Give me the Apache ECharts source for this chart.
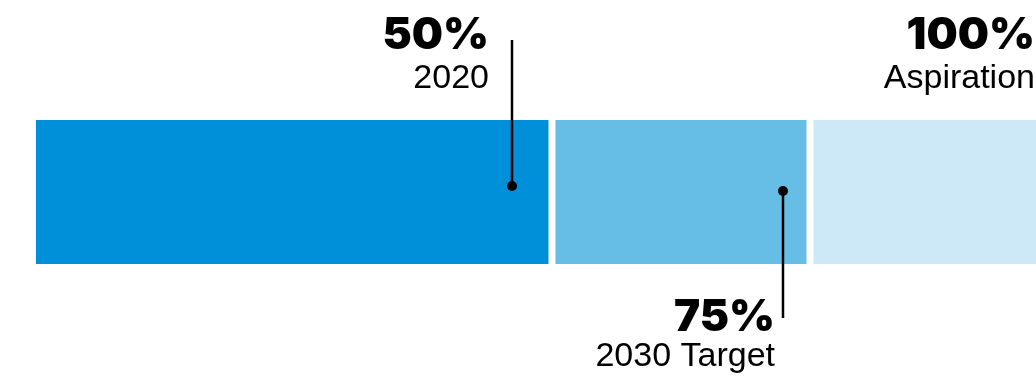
<!DOCTYPE html>
<html><head><meta charset="utf-8">
<script src="https://cdn.jsdelivr.net/npm/echarts@6/dist/echarts.min.js"></script>
<style>html,body{margin:0;padding:0;background:#fff}#c{width:1036px;height:378px}</style>
</head><body><div id="c"></div>
<script>
// ---- data ----
const categories = ['2020', '2030 Target', 'Aspiration'];
const values = [50, 75, 100];
const valueLabels = ['50%', '75%', '100%'];

// ---- style ----
const colors = ['#0090da', '#66bde6', '#cde8f6'];
const gap = 7;
const axisMax = 96.9; // visible extent: the last segment runs off the right edge
const heavyFont = {fontFamily: 'Inter', fontWeight: 900, fontSize: 44};
const regFont = {fontFamily: 'Liberation Sans', fontWeight: 'normal', fontSize: 34};
const markerStyle = [
  {side: 'top', dx: -40, dotDy: -6, lineLen: 80, labelGap: 23, valueDy: -84, catDy: -41, line: true},
  {side: 'bottom', dx: -27, dotDy: -1, lineLen: 54, labelGap: 8, valueDy: 54, catDy: 93, line: true},
  {side: 'top', dx: -33, dotDy: 0, lineLen: 0, labelGap: 0, valueDy: -84, catDy: -41, line: false}
];

const segData = values.map((v, i) => [i ? values[i - 1] : 0, v, i]);
const markData = values.map((v, i) => [v, i]);

const chart = echarts.init(document.getElementById('c'), null, {renderer: 'canvas'});
chart.setOption({
  animation: false,
  grid: {left: 36, right: 0, top: 120, bottom: 114},
  xAxis: {type: 'value', min: 0, max: axisMax, show: false},
  yAxis: {type: 'category', data: ['bar'], show: false},
  series: [
    {
      type: 'custom',
      clip: false,
      data: segData,
      renderItem: function (params, api) {
        const s = api.value(0), e = api.value(1), i = api.value(2);
        const p0 = api.coord([s, 0]);
        const p1 = api.coord([e, 0]);
        const h = api.size([0, 1])[1];
        const x0 = p0[0] + (i > 0 ? gap / 2 : 0);
        const x1 = p1[0] - (i < values.length - 1 ? gap / 2 : 0);
        return {type: 'rect', shape: {x: x0, y: p0[1] - h / 2, width: x1 - x0, height: h}, style: {fill: colors[i]}};
      }
    },
    {
      type: 'custom',
      clip: false,
      data: markData,
      renderItem: function (params, api) {
        const v = api.value(0), i = api.value(1);
        const ms = markerStyle[i];
        const p = api.coord([v, 0]);
        const h = api.size([0, 1])[1];
        const top = p[1] - h / 2, bottom = p[1] + h / 2;
        const x = p[0] + ms.dx;
        const dotY = p[1] + ms.dotDy;
        const children = [];
        if (ms.line) {
          const yEnd = ms.side === 'top' ? top - ms.lineLen : bottom + ms.lineLen;
          children.push({type: 'line', shape: {x1: x, y1: dotY, x2: x, y2: yEnd}, style: {stroke: '#000', lineWidth: 2.5}});
          children.push({type: 'circle', shape: {cx: x, cy: dotY, r: 5}, style: {fill: '#000'}});
        }
        const base = ms.side === 'top' ? top : bottom;
        const lx = x - ms.labelGap;
        children.push({type: 'text', x: lx, y: base + ms.valueDy, style: Object.assign({text: valueLabels[i], fill: '#000', align: 'right', verticalAlign: 'middle'}, heavyFont)});
        children.push({type: 'text', x: lx, y: base + ms.catDy, style: Object.assign({text: categories[i], fill: '#000', align: 'right', verticalAlign: 'middle'}, regFont)});
        return {type: 'group', children: children};
      }
    }
  ]
});
</script>
</body></html>
